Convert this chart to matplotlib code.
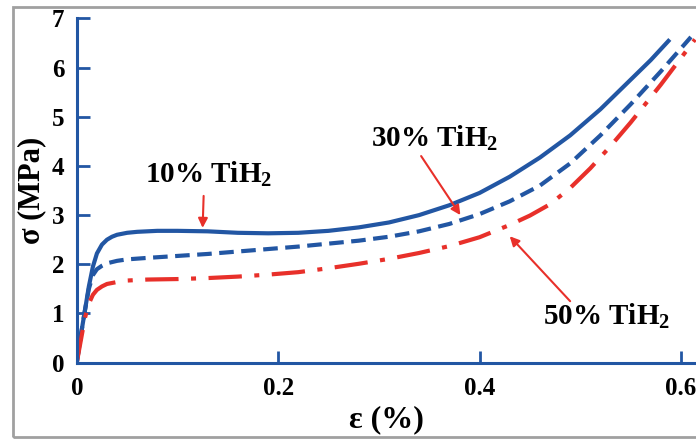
import numpy as np
import matplotlib
matplotlib.use("Agg")
import matplotlib.pyplot as plt
from matplotlib.patches import Rectangle

# strain (%) and stress (MPa)
strain_10 = [0, 0.004, 0.008, 0.012, 0.016, 0.02, 0.025, 0.03, 0.035, 0.04, 0.05, 0.06, 0.08,
             0.1, 0.13, 0.16, 0.19, 0.22, 0.25, 0.28, 0.31, 0.34, 0.37, 0.4, 0.43, 0.46,
             0.49, 0.52, 0.55, 0.57, 0.589]
stress_10 = [0, 0.55, 1.05, 1.55, 1.95, 2.22, 2.4, 2.5, 2.56, 2.6, 2.64, 2.66, 2.68,
             2.68, 2.67, 2.64, 2.63, 2.64, 2.68, 2.75, 2.85, 3.0, 3.2, 3.45, 3.78, 4.17,
             4.62, 5.15, 5.75, 6.15, 6.57]

strain_30 = [0, 0.004, 0.008, 0.012, 0.016, 0.02, 0.025, 0.03, 0.04, 0.05, 0.07, 0.1, 0.13,
             0.16, 0.19, 0.22, 0.25, 0.28, 0.31, 0.34, 0.37, 0.4, 0.43, 0.46, 0.49, 0.52,
             0.55, 0.58, 0.61]
stress_30 = [0, 0.55, 1.05, 1.5, 1.78, 1.9, 1.97, 2.02, 2.07, 2.1, 2.13, 2.17, 2.21,
             2.26, 2.31, 2.36, 2.42, 2.48, 2.56, 2.67, 2.82, 3.02, 3.28, 3.6, 4.05, 4.62,
             5.25, 5.92, 6.62]

strain_50 = [0, 0.004, 0.008, 0.012, 0.016, 0.02, 0.025, 0.03, 0.04, 0.05, 0.07, 0.1, 0.13,
             0.16, 0.19, 0.22, 0.25, 0.28, 0.31, 0.34, 0.37, 0.4, 0.43, 0.45, 0.47, 0.49,
             0.51, 0.53, 0.55, 0.58, 0.614]
stress_50 = [0, 0.45, 0.9, 1.2, 1.38, 1.48, 1.55, 1.6, 1.64, 1.67, 1.69, 1.7, 1.72,
             1.75, 1.79, 1.84, 1.92, 2.01, 2.11, 2.23, 2.37, 2.55, 2.8, 2.99, 3.22, 3.55,
             3.95, 4.4, 4.88, 5.65, 6.57]

labels = ["10% TiH$_2$", "30% TiH$_2$", "50% TiH$_2$"]
label_pos = [(0.068, 3.66), (0.292, 4.39), (0.463, 0.77)]
arrow_tail = [(0.126, 3.39), (0.342, 4.2), (0.49, 1.25)]
arrow_head = [(0.125, 2.74), (0.381, 3.0), (0.43, 2.57)]

blue = "#2256a3"
red = "#e8302a"

plt.rcParams["font.family"] = "Liberation Serif"
plt.rcParams["font.weight"] = "bold"
plt.rcParams["mathtext.fontset"] = "custom"
plt.rcParams["mathtext.rm"] = "Liberation Serif:bold"
plt.rcParams["mathtext.default"] = "rm"

fig = plt.figure(figsize=(6.96, 4.40), dpi=100)
ax = fig.add_axes([0.1103, 0.1757, 0.8897, 0.7827])

ax.plot(strain_10, stress_10, color=blue, lw=3.0, solid_capstyle="butt")
ax.plot(strain_30, stress_30, color=blue, lw=3.0, dashes=(3.5, 1.8))
ax.plot(strain_50, stress_50, color=red, lw=3.0, dashes=(8, 3, 1.2, 3))

for txt, pos in zip(labels, label_pos):
    ax.text(pos[0], pos[1], txt, fontsize=21, fontweight="bold", ha="left", va="baseline")
for tail, head in zip(arrow_tail, arrow_head):
    ax.annotate("", xy=head, xytext=tail,
                arrowprops=dict(arrowstyle="-|>", color=red, lw=1.5, mutation_scale=14,
                                shrinkA=0, shrinkB=0))

ax.set_xlim(0, 0.615)
ax.set_ylim(0, 7)
ax.set_xticks([0, 0.2, 0.4, 0.6])
ax.set_xticklabels(["0", "0.2", "0.4", "0.6"])
ax.set_yticks(range(8))
for s in ["top", "right"]:
    ax.spines[s].set_visible(False)
for s in ["left", "bottom"]:
    ax.spines[s].set_color(blue)
    ax.spines[s].set_linewidth(2.2)
ax.tick_params(direction="in", length=9, width=2, color=blue, labelsize=18)
ax.tick_params(axis="x", pad=10)
ax.tick_params(axis="y", pad=9)
ax.set_xlabel("ε (%)", fontsize=23, fontweight="bold", labelpad=4)
ax.set_ylabel("σ (MPa)", fontsize=22, fontweight="bold", labelpad=4)

fig.patches.append(Rectangle((13 / 696, 3 / 440), 1.0, 430 / 440, transform=fig.transFigure,
                             fill=False, edgecolor="#a0a0a0", lw=2))

fig.savefig("out.png", dpi=100)
